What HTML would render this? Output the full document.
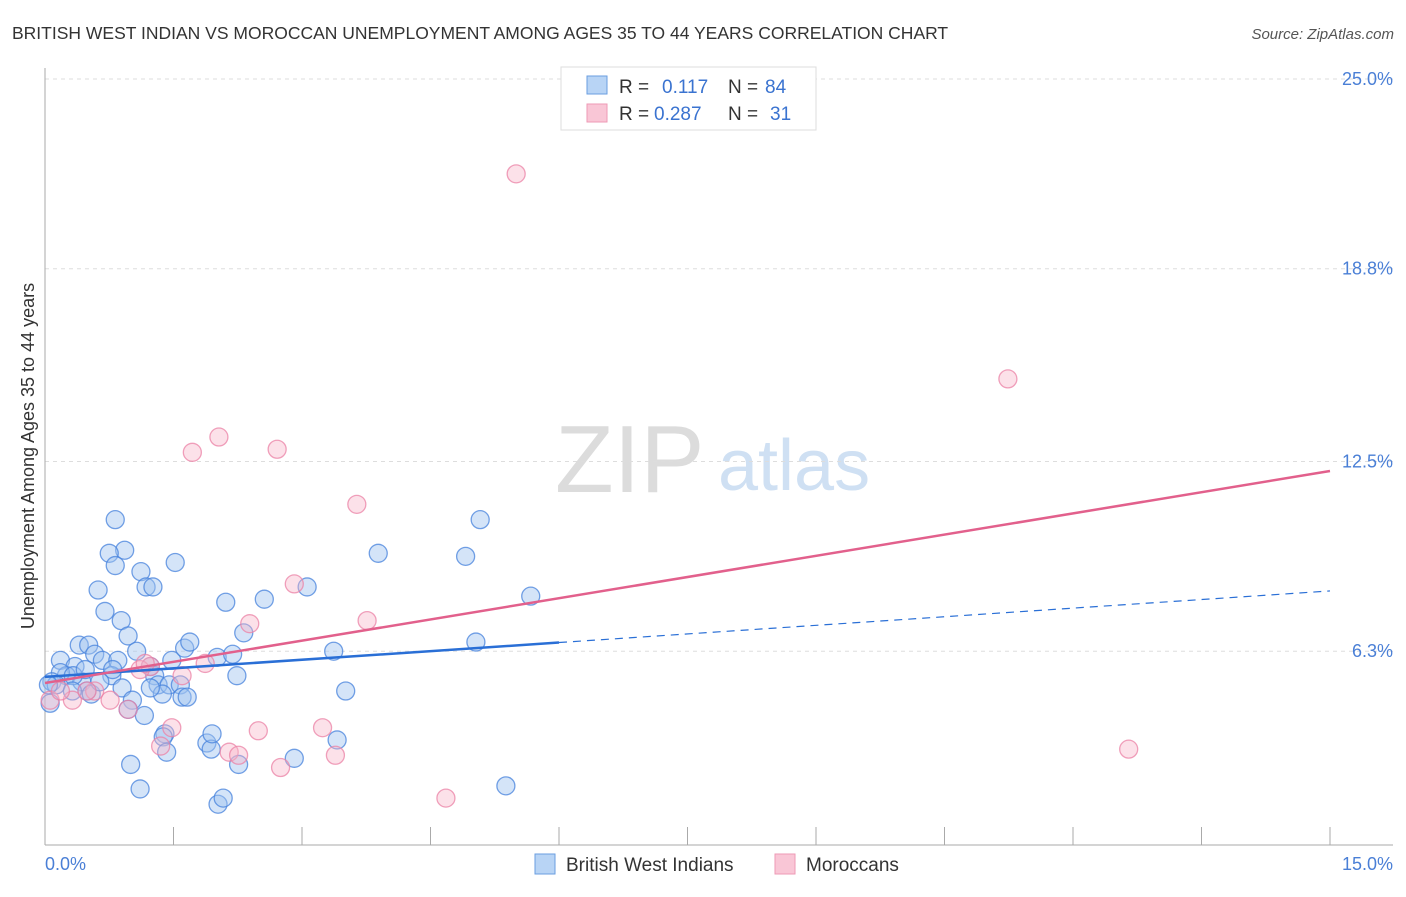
<!DOCTYPE html>
<html><head><meta charset="utf-8"><style>
body{margin:0;background:#fff;font-family:"Liberation Sans",sans-serif}
svg text{font-family:"Liberation Sans",sans-serif}
</style></head><body>
<svg id="chart" width="1406" height="892" xmlns="http://www.w3.org/2000/svg">
<text x="12" y="39" font-size="17.5" fill="#333">BRITISH WEST INDIAN VS MOROCCAN UNEMPLOYMENT AMONG AGES 35 TO 44 YEARS CORRELATION CHART</text>
<text x="1394" y="39" font-size="15" fill="#555" font-style="italic" text-anchor="end">Source: ZipAtlas.com</text>
<g>
<text x="555" y="492" font-size="96" fill="#dcdcdc" font-family="Liberation Serif,serif">ZIP</text>
<text x="718" y="490" font-size="72" fill="#cfe0f3">atlas</text>
</g>
<g id="grid"></g>
<line x1="45" y1="68" x2="45" y2="845" stroke="#aaa"/>
<line x1="45" y1="845" x2="1393" y2="845" stroke="#aaa"/>
<g id="xticks"></g>
<text x="45" y="870" font-size="18" fill="#4a7fd6">0.0%</text>
<text x="1393" y="870" font-size="18" fill="#4a7fd6" text-anchor="end">15.0%</text>
<text transform="translate(34,456) rotate(-90)" font-size="18" fill="#333" text-anchor="middle">Unemployment Among Ages 35 to 44 years</text>
<g id="points"></g>
<g id="lines"></g>
<g>
<rect x="561" y="67" width="255" height="63" fill="#fff" stroke="#ddd"/>
<rect x="587" y="76" width="20" height="18" fill="#b8d4f5" stroke="#6a9ee0"/>
<rect x="587" y="104" width="20" height="18" fill="#f9c6d6" stroke="#ee9ab5"/>
<text y="93" font-size="19"><tspan x="619" fill="#333">R = </tspan><tspan x="662" fill="#3a73d0">0.117</tspan><tspan x="728" fill="#333">N = </tspan><tspan x="765" fill="#3a73d0">84</tspan></text>
<text y="120" font-size="19"><tspan x="619" fill="#333">R = </tspan><tspan x="654" fill="#3a73d0">0.287</tspan><tspan x="728" fill="#333">N = </tspan><tspan x="770" fill="#3a73d0">31</tspan></text>
</g>
<g>
<rect x="535" y="854" width="20" height="20" fill="#b8d4f5" stroke="#6a9ee0"/>
<text x="566" y="871" font-size="19" fill="#333">British West Indians</text>
<rect x="775" y="854" width="20" height="20" fill="#f9c6d6" stroke="#ee9ab5"/>
<text x="806" y="871" font-size="19" fill="#333">Moroccans</text>
</g>
</svg>
<script>
const yTicks=[6.3,12.5,18.8,25.0];
const yTickLabels=["6.3%","12.5%","18.8%","25.0%"];
const xTicks=[0,1.5,3,4.5,6,7.5,9,10.5,12,13.5,15];
const bwiX=[0.82,0.93,0.75,0.82,1.52,1.12,1.18,1.26,0.62,0.70,0.89,0.97,0.40,0.51,1.07,0.58,0.18,0.35,0.67,0.85,1.23,1.48,1.63,1.69,2.01,2.19,2.32,2.11,2.56,3.06,3.89,4.91,5.08,5.67,5.03,3.37,3.51,2.24,1.28,1.32,1.45,1.58,0.78,0.25,0.18,0.08,0.13,0.04,0.43,0.49,0.54,0.90,1.02,0.97,1.16,1.37,1.60,1.66,1.40,1.38,1.42,1.89,1.94,1.95,2.26,1.00,1.11,2.02,2.08,2.91,3.41,5.38,0.33,0.47,0.32,0.06,0.79,1.23,0.64];
const bwiY=[10.6,9.6,9.5,9.1,9.2,8.9,8.4,8.4,8.3,7.6,7.3,6.8,6.5,6.5,6.3,6.2,6.0,5.8,6.0,6.0,5.8,6.0,6.4,6.6,6.1,6.2,6.9,7.9,8.0,8.4,9.5,9.4,10.6,8.1,6.6,6.3,5.0,5.5,5.5,5.2,5.2,5.2,5.5,5.5,5.6,5.3,5.2,5.2,5.3,5.0,4.9,5.1,4.7,4.4,4.2,4.9,4.8,4.8,3.6,3.5,3.0,3.3,3.1,3.6,2.6,2.6,1.8,1.3,1.5,2.8,3.4,1.9,5.5,5.7,5.0,4.6,5.7,5.1,5.3];
const morX=[5.50,11.24,2.03,1.72,2.71,3.64,2.91,3.76,2.39,1.23,1.60,1.87,1.11,0.76,0.97,1.48,1.35,2.15,2.26,2.49,2.75,3.24,3.39,4.68,12.65,0.58,0.32,0.06,0.18,1.17,0.49];
const morY=[21.9,15.2,13.3,12.8,12.9,11.1,8.5,7.3,7.2,5.8,5.5,5.9,5.7,4.7,4.4,3.8,3.2,3.0,2.9,3.7,2.5,3.8,2.9,1.5,3.1,5.0,4.7,4.7,5.0,5.9,5.0];
const bwiLine=[5.46,8.27]; // y at x=0 and x=15
const bwiSolidEnd=6.0;
const morLine=[5.26,12.19];
const sx=v=>45+v*(1285/15);
const sy=v=>844-v*30.6;
const NS='http://www.w3.org/2000/svg';
function mk(tag,attrs,parent){const e=document.createElementNS(NS,tag);for(const k in attrs)e.setAttribute(k,attrs[k]);parent.appendChild(e);return e;}
const grid=document.getElementById('grid');
yTicks.forEach((t,i)=>{
const l=mk('line',{x1:45,x2:1393,y1:sy(t),y2:sy(t),stroke:'#ddd','stroke-dasharray':'4,4'},grid);


const tx=mk('text',{x:1393,y:sy(t)+6,'font-size':18,fill:'#4a7fd6','text-anchor':'end'},grid);
tx.textContent=yTickLabels[i];


});
const xt=document.getElementById('xticks');
xTicks.forEach(t=>{
const l=mk('line',{x1:sx(t),x2:sx(t),y1:827,y2:845,stroke:'#aaa'},xt);


});
const pts=document.getElementById('points');
bwiX.forEach((x,i)=>{
const c=mk('circle',{cx:sx(x),cy:sy(bwiY[i]),r:9,fill:'rgba(160,196,240,0.45)',stroke:'rgba(70,130,220,0.75)','stroke-width':1.3},pts);


});
morX.forEach((x,i)=>{
const c=mk('circle',{cx:sx(x),cy:sy(morY[i]),r:9,fill:'rgba(248,180,200,0.4)',stroke:'rgba(235,130,165,0.75)','stroke-width':1.3},pts);


});
const ln=document.getElementById('lines');
const byAt=x=>bwiLine[0]+(bwiLine[1]-bwiLine[0])*x/15;
let a=mk('line',{x1:sx(0),y1:sy(bwiLine[0]),x2:sx(bwiSolidEnd),y2:sy(byAt(bwiSolidEnd)),stroke:'#2a6fd6','stroke-width':2.5},ln);


let b=mk('line',{x1:sx(bwiSolidEnd),y1:sy(byAt(bwiSolidEnd)),x2:sx(15),y2:sy(bwiLine[1]),stroke:'#2a6fd6','stroke-width':1.2,'stroke-dasharray':'8,6'},ln);


let m=mk('line',{x1:sx(0),y1:sy(morLine[0]),x2:sx(15),y2:sy(morLine[1]),stroke:'#e2608c','stroke-width':2.5},ln);


</script>
</body></html>
